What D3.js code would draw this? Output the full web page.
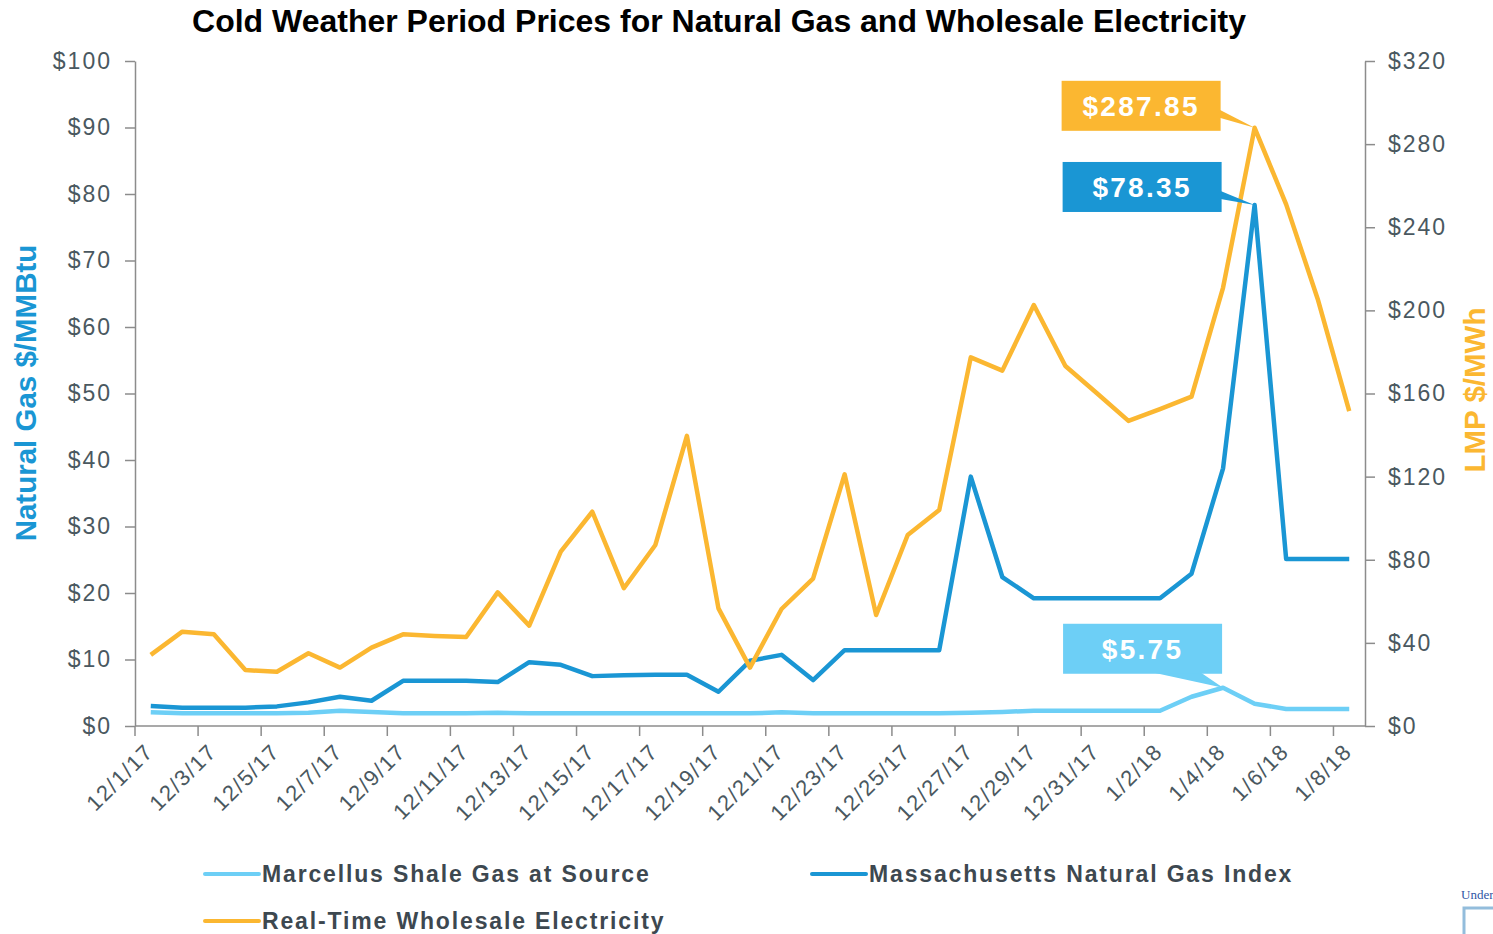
<!DOCTYPE html>
<html>
<head>
<meta charset="utf-8">
<script src="https://cdn.jsdelivr.net/npm/d3@7"></script>
<style>
  body { margin: 0; background: #fff; }
  svg { display: block; font-family: "Liberation Sans", Arial, sans-serif; }
</style>
</head>
<body>
<div id="chart"></div>
<script>
// Daily prices 12/1/17 - 1/8/18
var dates = ["12/1/17","12/2/17","12/3/17","12/4/17","12/5/17","12/6/17","12/7/17","12/8/17","12/9/17","12/10/17",
  "12/11/17","12/12/17","12/13/17","12/14/17","12/15/17","12/16/17","12/17/17","12/18/17","12/19/17","12/20/17",
  "12/21/17","12/22/17","12/23/17","12/24/17","12/25/17","12/26/17","12/27/17","12/28/17","12/29/17","12/30/17",
  "12/31/17","1/1/18","1/2/18","1/3/18","1/4/18","1/5/18","1/6/18","1/7/18","1/8/18"];

// $/MMBtu (left axis)
var marcellus = [2.05,1.9,1.9,1.9,1.9,2.0,2.3,2.1,1.9,1.9,
  1.9,2.0,1.9,1.9,1.9,1.9,1.9,1.9,1.9,1.9,
  2.05,1.9,1.9,1.9,1.9,1.9,2.0,2.1,2.3,2.3,
  2.3,2.3,2.3,4.4,5.75,3.35,2.55,2.55,2.55];
var massGas = [3.0,2.75,2.75,2.75,2.95,3.55,4.4,3.8,6.8,6.8,
  6.8,6.6,9.6,9.2,7.5,7.65,7.7,7.7,5.15,9.8,
  10.7,6.9,11.4,11.4,11.4,11.4,37.5,22.4,19.2,19.2,
  19.2,19.2,19.2,22.9,38.75,78.35,25.1,25.1,25.1];
// $/MWh (right axis)
var electricity = [34.2,45.4,44.1,26.9,26.1,35.0,28.1,37.7,44.1,43.3,
  42.8,64.3,48.3,83.9,103.1,66.3,87.1,139.6,56.6,28.1,
  56.3,70.9,121.1,53.4,91.9,103.9,177.4,171.0,202.6,173.2,
  160.1,146.8,152.5,158.5,211.0,287.85,251.0,205.5,151.5];

var gasTicks = [0,10,20,30,40,50,60,70,80,90,100];
var lmpTicks = [0,40,80,120,160,200,240,280,320];

var seriesNames = ["Marcellus Shale Gas at Source","Massachusetts Natural Gas Index","Real-Time Wholesale Electricity"];
var colors = ["#6dcff6","#1a96d4","#fbb731"];

var W = 1493, H = 934;
var plotL = 135, plotR = 1365, plotT = 61, plotB = 726;
var axisGray = "#8c8c8c", labelGray = "#4a5860";

var svg = d3.select("#chart").append("svg")
    .attr("width", W)
    .attr("height", H);

var x = d3.scaleBand().domain(dates).range([plotL, plotR]);
var yGas = d3.scaleLinear().domain([0,100]).range([plotB, plotT]);
var yLmp = d3.scaleLinear().domain([0,320]).range([plotB, plotT]);
function cx(d){ return x(d) + x.bandwidth()/2; }

// title
svg.append("text")
    .attr("x", 719)
    .attr("y", 32)
    .attr("text-anchor", "middle")
    .attr("font-size", "32px")
    .attr("font-weight", "bold")
    .attr("fill", "#000")
    .text("Cold Weather Period Prices for Natural Gas and Wholesale Electricity");

// y axes
var gAxisL = svg.append("g")
    .attr("transform", "translate(" + plotL + ",0)")
    .call(d3.axisLeft(yGas).tickValues(gasTicks).tickFormat(function(d){ return "$" + d; })
        .tickSize(10).tickSizeOuter(0).tickPadding(13));

var gAxisR = svg.append("g")
    .attr("transform", "translate(" + plotR + ",0)")
    .call(d3.axisRight(yLmp).tickValues(lmpTicks).tickFormat(function(d){ return "$" + d; })
        .tickSize(10).tickSizeOuter(0).tickPadding(13));

[gAxisL, gAxisR].forEach(function(g){
    g.select(".domain").attr("stroke", axisGray).attr("stroke-width", 1.5);
    g.selectAll(".tick line").attr("stroke", axisGray).attr("stroke-width", 1.5);
    g.selectAll(".tick text")
        .attr("fill", labelGray)
        .attr("font-size", "23px")
        .attr("letter-spacing", "2px")
        .attr("font-family", "Liberation Sans, Arial, sans-serif");
});

// x axis: ticks on category edges every 2 days, labels on category centers
var labelDates = dates.filter(function(d, i){ return i % 2 === 0; });

svg.append("line")
    .attr("x1", plotL).attr("x2", plotR)
    .attr("y1", plotB).attr("y2", plotB)
    .attr("stroke", axisGray).attr("stroke-width", 1.5);

svg.selectAll(".xtick")
    .data(labelDates)
    .enter()
    .append("line")
    .attr("class", "xtick")
    .attr("x1", function(d){ return x(d); })
    .attr("x2", function(d){ return x(d); })
    .attr("y1", plotB)
    .attr("y2", plotB + 10)
    .attr("stroke", axisGray)
    .attr("stroke-width", 1.5);

svg.selectAll(".xlabel")
    .data(labelDates)
    .enter()
    .append("text")
    .attr("class", "xlabel")
    .attr("transform", function(d){ return "translate(" + (cx(d) + 4) + "," + (plotB + 27) + ") rotate(-45)"; })
    .attr("text-anchor", "end")
    .attr("font-size", "22px")
    .attr("letter-spacing", "1.5px")
    .attr("fill", labelGray)
    .text(function(d){ return d; });

// axis titles
svg.append("text")
    .attr("transform", "translate(36,393) rotate(-90)")
    .attr("text-anchor", "middle")
    .attr("font-size", "29.5px")
    .attr("font-weight", "bold")
    .attr("fill", colors[1])
    .text("Natural Gas $/MMBtu");

svg.append("text")
    .attr("transform", "translate(1485,390) rotate(-90)")
    .attr("text-anchor", "middle")
    .attr("font-size", "29.5px")
    .attr("font-weight", "bold")
    .attr("fill", colors[2])
    .text("LMP $/MWh");

// lines
var gasLine = d3.line()
    .x(function(d, i){ return cx(dates[i]); })
    .y(function(d){ return yGas(d); });
var lmpLine = d3.line()
    .x(function(d, i){ return cx(dates[i]); })
    .y(function(d){ return yLmp(d); });

svg.append("path").datum(marcellus)
    .attr("d", gasLine).attr("fill", "none")
    .attr("stroke", colors[0]).attr("stroke-width", 4.5).attr("stroke-linejoin", "round");
svg.append("path").datum(massGas)
    .attr("d", gasLine).attr("fill", "none")
    .attr("stroke", colors[1]).attr("stroke-width", 4.5).attr("stroke-linejoin", "round");
svg.append("path").datum(electricity)
    .attr("d", lmpLine).attr("fill", "none")
    .attr("stroke", colors[2]).attr("stroke-width", 4.5).attr("stroke-linejoin", "round");

// callouts for the peak values
function maxIdx(arr){ return arr.indexOf(d3.max(arr)); }

var callouts = [
    {arr: electricity, y: yLmp, color: colors[2], label: "$287.85", dx: -193, dy: -47, wedge: "side"},
    {arr: massGas, y: yGas, color: colors[1], label: "$78.35", dx: -192, dy: -43, wedge: "side"},
    {arr: marcellus, y: yGas, color: colors[0], label: "$5.75", dx: -160, dy: -64, wedge: "bottom"}
];

callouts.forEach(function(c){
    var i = maxIdx(c.arr);
    var tx = cx(dates[i]), ty = c.y(c.arr[i]);
    var bx = tx + c.dx, by = ty + c.dy, bw = 159, bh = 50;
    var g = svg.append("g");
    var pts;
    if (c.wedge === "side") {
        pts = [[bx + bw - 1, by + 29], [bx + bw - 1, by + 37], [tx, ty]];
    } else {
        pts = [[tx - 69, by + bh - 1], [tx - 22, by + bh - 1], [tx, ty]];
    }
    g.append("path")
        .attr("d", d3.line()(pts) + "Z")
        .attr("fill", c.color);
    g.append("rect")
        .attr("x", bx).attr("y", by)
        .attr("width", bw).attr("height", bh)
        .attr("fill", c.color);
    g.append("text")
        .attr("x", bx + bw/2)
        .attr("y", by + bh/2 + 10)
        .attr("text-anchor", "middle")
        .attr("font-size", "28px")
        .attr("font-weight", "bold")
        .attr("letter-spacing", "2.3px")
        .attr("fill", "#fff")
        .text(c.label);
});

// legend
var legendPos = [[205, 874], [812, 874], [205, 921]];
var legend = svg.selectAll(".legend")
    .data(seriesNames)
    .enter()
    .append("g")
    .attr("class", "legend")
    .attr("transform", function(d, i){ return "translate(" + legendPos[i][0] + "," + legendPos[i][1] + ")"; });

legend.append("line")
    .attr("x1", 0).attr("x2", 54)
    .attr("y1", 0).attr("y2", 0)
    .attr("stroke", function(d, i){ return colors[i]; })
    .attr("stroke-width", 4)
    .attr("stroke-linecap", "round");

legend.append("text")
    .attr("x", 57)
    .attr("y", 8)
    .attr("font-size", "23px")
    .attr("font-weight", "bold")
    .attr("letter-spacing", "1.85px")
    .attr("fill", "#3d4850")
    .text(function(d){ return d; });

// cut-off element at the bottom right corner
svg.append("text")
    .attr("x", 1461)
    .attr("y", 899)
    .attr("font-family", "Liberation Serif, Times New Roman, serif")
    .attr("font-size", "13px")
    .attr("fill", "#2f55a4")
    .text("Under");
svg.append("rect")
    .attr("x", 1464).attr("y", 908)
    .attr("width", 60).attr("height", 60)
    .attr("fill", "none")
    .attr("stroke", "#93bddc")
    .attr("stroke-width", 3);
</script>
</body>
</html>
